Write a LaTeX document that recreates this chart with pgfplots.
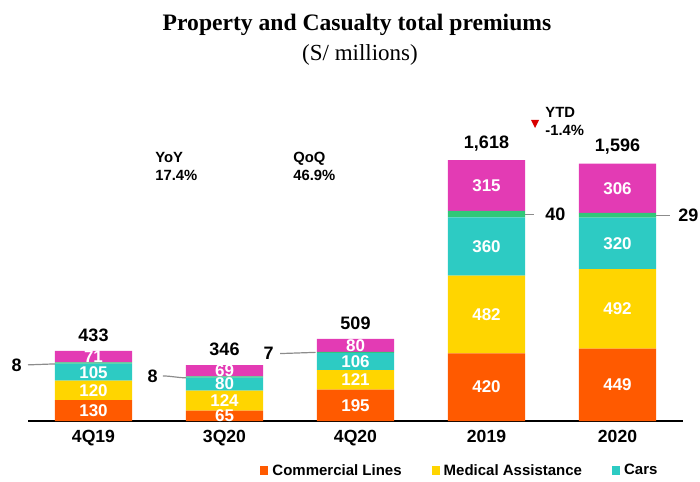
\documentclass[border=0pt]{standalone}
\usepackage{pgfplots}
\pgfplotsset{compat=1.18}
\usepackage{pgfplotstable}
\usepackage{fontspec}
\setmainfont{Liberation Sans}
\newfontfamily\serif{Liberation Serif}
\definecolor{cComm}{HTML}{FF5A00}
\definecolor{cMed}{HTML}{FFD500}
\definecolor{cCars}{HTML}{2DCBC3}
\definecolor{cOth}{HTML}{30C878}
\definecolor{cAuto}{HTML}{E33BB4}
\definecolor{cLead}{HTML}{8C8C8C}

\pgfplotstableread{
x comm med cars oth auto tot lbl
0 130 120 105 8 71 433 433
1 65 124 80 8 69 346 346
2 195 121 106 7 80 509 509
3 420 482 360 40 315 1618 1,618
4 449 492 320 29 306 1596 1,596
}\premiums

% labels of the thin segment (left side)
\pgfplotstableread{
lx ly lbl
-0.53 348 8
0.508 279 8
1.393 418 7
}\othleft
\pgfplotstableread{
lx ly lbl
3.431 1282 40
4.446 1276 29
}\othright

\pgfplotsset{base/.style={at={(14pt,30pt)}, anchor=south west, scale only axis,
  width=327.5pt, height=160.5pt, xmin=-0.5, xmax=4.5, ymin=0, ymax=1990, clip=false}}

\newcommand\segfont{\bfseries\fontsize{8.5}{10}\selectfont}

\begin{document}
\begin{tikzpicture}
\useasboundingbox (0,0) rectangle (350pt,240.5pt);
\begin{axis}[base, ybar stacked, bar width=0.59,
  axis x line*=bottom, hide y axis,
  axis line style={-, line width=1pt, black},
  xtick={0,1,2,3,4}, xticklabels={4Q19,3Q20,4Q20,2019,2020},
  major tick length=0,
  xticklabel style={font=\bfseries\fontsize{8.8}{10}\selectfont, yshift=-1pt},
  legend columns=3,
  legend style={draw=none, at={(0.661,-0.156)}, anchor=center,
    font=\bfseries\fontsize{7.5}{9}\selectfont,
    /tikz/every even column/.append style={column sep=13pt}},
  legend image code/.code={\fill[#1] (0pt,-2pt) rectangle (4pt,2.5pt);},
  legend entries={Commercial Lines, Medical Assistance, Cars},
]
\addplot[fill=cComm, draw=none] table[x=x, y=comm]{\premiums};
\addplot[fill=cMed, draw=none] table[x=x, y=med]{\premiums};
\addplot[fill=cCars, draw=none] table[x=x, y=cars]{\premiums};
\addplot[fill=cOth, draw=none] table[x=x, y=oth]{\premiums};
\addplot[fill=cAuto, draw=none] table[x=x, y=auto]{\premiums};
\end{axis}

\begin{axis}[base, hide axis,
  every node near coord/.style={anchor=center, text=white, font=\segfont}]
\addplot[draw=none, nodes near coords, point meta=explicit symbolic]
  table[x=x, y expr=\thisrow{comm}/2, meta=comm]{\premiums};
\addplot[draw=none, nodes near coords, point meta=explicit symbolic]
  table[x=x, y expr=\thisrow{comm}+\thisrow{med}/2, meta=med]{\premiums};
\addplot[draw=none, nodes near coords, point meta=explicit symbolic]
  table[x=x, y expr=\thisrow{comm}+\thisrow{med}+\thisrow{cars}/2, meta=cars]{\premiums};
\addplot[draw=none, nodes near coords, point meta=explicit symbolic]
  table[x=x, y expr=\thisrow{comm}+\thisrow{med}+\thisrow{cars}+\thisrow{oth}+\thisrow{auto}/2, meta=auto]{\premiums};
% totals
\addplot[draw=none, nodes near coords, point meta=explicit symbolic,
  every node near coord/.style={anchor=south, text=black, font=\bfseries\fontsize{9}{10}\selectfont, yshift=1pt}]
  table[x=x, y=tot, meta=lbl]{\premiums};
% thin segment labels
\addplot[draw=none, nodes near coords, point meta=explicit symbolic,
  every node near coord/.style={anchor=east, inner sep=1pt, text=black, font=\bfseries\fontsize{9}{10}\selectfont}]
  table[x=lx, y=ly, meta=lbl]{\othleft};
\addplot[draw=none, nodes near coords, point meta=explicit symbolic,
  every node near coord/.style={anchor=west, inner sep=1pt, text=black, font=\bfseries\fontsize{9}{10}\selectfont}]
  table[x=lx, y=ly, meta=lbl]{\othright};
% leader lines
\draw[cLead, line width=0.6pt] (axis cs:-0.5,348) -- (axis cs:-0.294,354);
\draw[cLead, line width=0.6pt] (axis cs:0.53,279) to[out=0,in=180] (axis cs:0.706,268);
\draw[cLead, line width=0.6pt] (axis cs:1.424,418) -- (axis cs:1.696,425.5);
\draw[cLead, line width=0.6pt] (axis cs:3.294,1282) -- (axis cs:3.36,1282);
\draw[cLead, line width=0.6pt] (axis cs:4.294,1275.5) -- (axis cs:4.40,1275.5);
\end{axis}

\begin{scope}[x=0.5pt, y=-0.5pt, yshift=240.5pt]
\node at (357,25) {\serif\bfseries\fontsize{11.8}{14}\selectfont Property and Casualty total premiums};
\node at (360,55) {\serif\fontsize{11.5}{14}\selectfont (S/ millions)};
\node[anchor=west, align=left, inner sep=0pt, font=\bfseries\fontsize{7.4}{9}\selectfont] at (155,166) {YoY\\17.4\%};
\node[anchor=west, align=left, inner sep=0pt, font=\bfseries\fontsize{7.4}{9}\selectfont] at (293,166) {QoQ\\46.9\%};
\node[anchor=west, align=left, inner sep=0pt, font=\bfseries\fontsize{7.4}{9}\selectfont] at (545,121.5) {YTD\\-1.4\%};
\fill[red!85!black] (531,120) -- (539,120) -- (535,128) -- cycle;
\end{scope}
\end{tikzpicture}
\end{document}
